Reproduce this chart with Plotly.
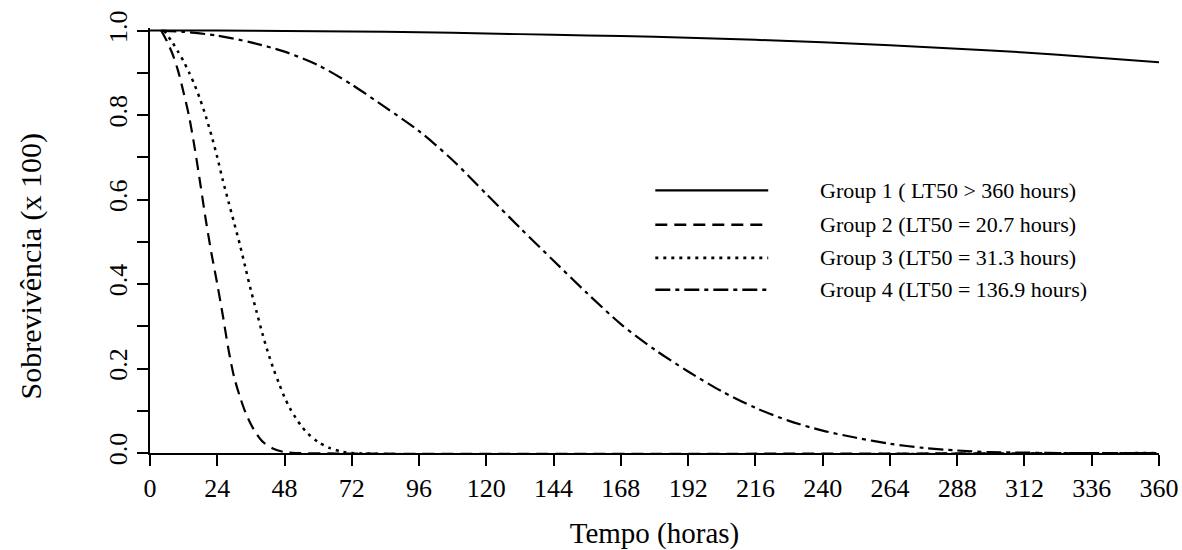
import plotly.graph_objects as go

# ---- data ----
time_g1 = [0, 24, 48, 72, 96, 120, 144, 168, 192, 216, 240, 264, 288, 312, 336, 360]
surv_g1 = [1.0, 1.0, 0.999, 0.998, 0.996, 0.993, 0.990, 0.987, 0.983, 0.978, 0.972,
           0.965, 0.957, 0.948, 0.937, 0.925]

time_g2 = [4, 6, 8, 10, 12, 14, 16, 18, 20, 22, 24, 26, 28, 30, 32, 34, 36, 38, 40,
           44, 48, 52, 360]
surv_g2 = [1.0, 0.975, 0.945, 0.905, 0.853, 0.795, 0.72, 0.635, 0.548, 0.47, 0.40,
           0.325, 0.245, 0.18, 0.135, 0.097, 0.068, 0.045, 0.028, 0.01, 0.002, 0.0, 0.0]

time_g3 = [5, 8, 10, 12, 14, 16, 18, 20, 22, 24, 26, 28, 30, 32, 34, 36, 38, 40, 42,
           44, 46, 48, 50, 52, 54, 56, 60, 64, 68, 72, 360]
surv_g3 = [1.0, 0.972, 0.95, 0.927, 0.9, 0.87, 0.835, 0.795, 0.75, 0.70, 0.645,
           0.595, 0.545, 0.495, 0.44, 0.385, 0.335, 0.285, 0.24, 0.2, 0.165, 0.132,
           0.105, 0.083, 0.064, 0.048, 0.026, 0.012, 0.004, 0.0, 0.0]

time_g4 = [4, 12, 24, 36, 48, 60, 72, 84, 96, 108, 120, 132, 144, 156, 168, 180, 192,
           204, 216, 228, 240, 252, 264, 276, 288, 300, 312, 324, 360]
surv_g4 = [1.0, 0.997, 0.988, 0.972, 0.950, 0.918, 0.872, 0.818, 0.762, 0.693, 0.613,
           0.533, 0.455, 0.378, 0.305, 0.245, 0.193, 0.146, 0.107, 0.076, 0.053,
           0.036, 0.022, 0.012, 0.006, 0.002, 0.001, 0.0, 0.0]

group_labels = ["Group 1 ( LT50 > 360 hours)", "Group 2 (LT50 = 20.7 hours)",
                "Group 3 (LT50 = 31.3 hours)", "Group 4 (LT50 = 136.9 hours)"]
x_ticks = list(range(0, 361, 24))
x_title = "Tempo (horas)"
y_title = "Sobrevivência (x 100)"

# ---- styles ----
FONT = "Liberation Serif"
dashes = ["solid", "12px,7px", "3px,5px", "15px,5px,4px,5px"]
widths = [2, 2.2, 2.5, 2.2]

series = [(time_g1, surv_g1), (time_g2, surv_g2), (time_g3, surv_g3), (time_g4, surv_g4)]

fig = go.Figure()
for (t, s), lab, d, w in zip(series, group_labels, dashes, widths):
    fig.add_trace(go.Scatter(x=t, y=s, mode="lines", name=lab,
                             line=dict(color="black", width=w, dash=d,
                                       shape="spline", smoothing=0.8),
                             showlegend=False))

# manual legend (long line samples like the reference)
leg_y = [0.618, 0.537, 0.459, 0.384]
for lab, d, w, yy in zip(group_labels, dashes, widths, leg_y):
    fig.add_shape(type="line", xref="paper", yref="paper", x0=0.5008, x1=0.6127,
                  y0=yy, y1=yy, line=dict(color="black", width=w + 0.3, dash=d))
    fig.add_annotation(xref="paper", yref="paper", x=0.662, y=yy, text=lab,
                       showarrow=False, xanchor="left", yanchor="middle",
                       font=dict(family=FONT, size=22, color="black"))

# y-axis title (slightly below the plot centre, as in the reference)
fig.add_annotation(xref="paper", yref="paper", x=-0.1184, y=0.44, text=y_title,
                   textangle=-90, showarrow=False, xanchor="center", yanchor="middle",
                   font=dict(family=FONT, size=30, color="black"))

fig.update_layout(
    width=1182, height=550,
    margin=dict(l=150, r=23, t=28, b=97),
    paper_bgcolor="white", plot_bgcolor="white",
    font=dict(family=FONT, color="black"),
)
fig.update_xaxes(
    range=[0, 360], tickmode="array", tickvals=x_ticks,
    ticktext=[str(v) for v in x_ticks], automargin=False,
    showline=True, linecolor="black", linewidth=2,
    ticks="outside", ticklen=11, tickwidth=2, tickcolor="black",
    showgrid=False, zeroline=False,
    tickfont=dict(family=FONT, size=26, color="black"),
    title=dict(text=x_title, font=dict(family=FONT, size=29, color="black"),
               standoff=28),
)
fig.update_yaxes(
    range=[0, 1.006], tick0=0, dtick=0.2, tickformat=".1f", tickangle=-90,
    automargin=False,
    showline=True, linecolor="black", linewidth=2,
    ticks="outside", ticklen=11, tickwidth=2, tickcolor="black",
    minor=dict(dtick=0.1, ticks="outside", ticklen=11, tickwidth=2,
               tickcolor="black", showgrid=False),
    showgrid=False, zeroline=False,
    tickfont=dict(family=FONT, size=26, color="black"),
)

fig.write_html("out.html")
